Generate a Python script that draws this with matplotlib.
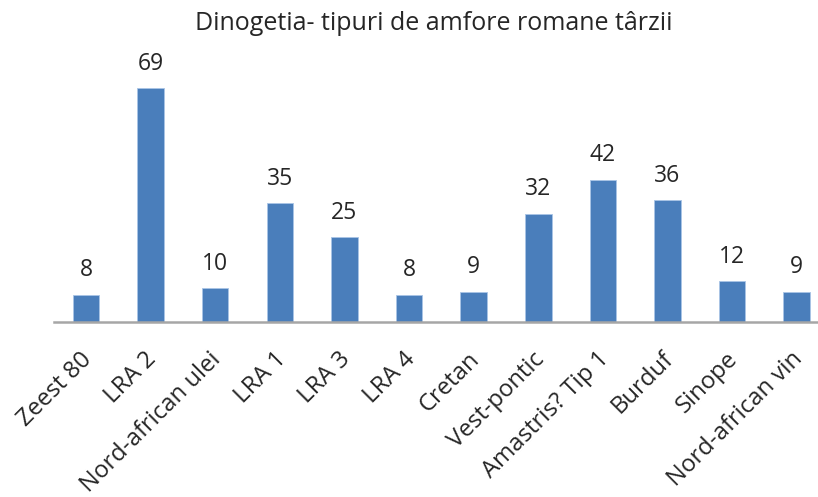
import matplotlib
matplotlib.use("Agg")
import matplotlib.pyplot as plt
from matplotlib.transforms import ScaledTranslation

categories = ["Zeest 80", "LRA 2", "Nord-african ulei", "LRA 1", "LRA 3", "LRA 4",
              "Cretan", "Vest-pontic", "Amastris? Tip 1", "Burduf", "Sinope",
              "Nord-african vin"]
values = [8, 69, 10, 35, 25, 8, 9, 32, 42, 36, 12, 9]
title = "Dinogetia- tipuri de amfore romane târzii"

plt.rcParams['font.family'] = ['Open Sans', 'DejaVu Sans']

W, H = 818, 497
fig = plt.figure(figsize=(W / 100, H / 100), dpi=100)
# plot area in pixels: left 53.7, right 829, baseline at 322
left, right, base, top = 53.7, 829.0, 322.0, 51.0
ax = fig.add_axes([left / W, (H - base) / H, (right - left) / W, (base - top) / H])

x = range(len(categories))
ax.bar(x, values, width=0.41, color="#4a7ebb", edgecolor="#a9c4e6", linewidth=0.6, zorder=2)
ax.set_xlim(-0.5, len(categories) - 0.5)
ax.set_ylim(0, 80)

for xi, v in zip(x, values):
    ax.annotate(str(v), (xi, v), xytext=(0, 9), textcoords="offset points",
                ha="center", va="bottom", fontsize=16.5, color="#262626")

for s in ["top", "right", "left"]:
    ax.spines[s].set_visible(False)
ax.spines["bottom"].set_color("#a6a6a6")
ax.spines["bottom"].set_linewidth(1.8)
ax.set_yticks([])
ax.set_xticks(list(x))
ax.set_xticklabels(categories, rotation=45, ha="right", rotation_mode="anchor",
                   fontsize=17.2, color="#262626")
ax.tick_params(axis="x", length=0, pad=16)
shift = ScaledTranslation(-6 / 100, -3 / 100, fig.dpi_scale_trans)
for lbl in ax.get_xticklabels():
    lbl.set_transform(lbl.get_transform() + shift)

fig.text(434 / W, 1 - 24 / H, title, ha="center", va="center", fontsize=18, color="#262626")

fig.savefig("out.png", dpi=100)
